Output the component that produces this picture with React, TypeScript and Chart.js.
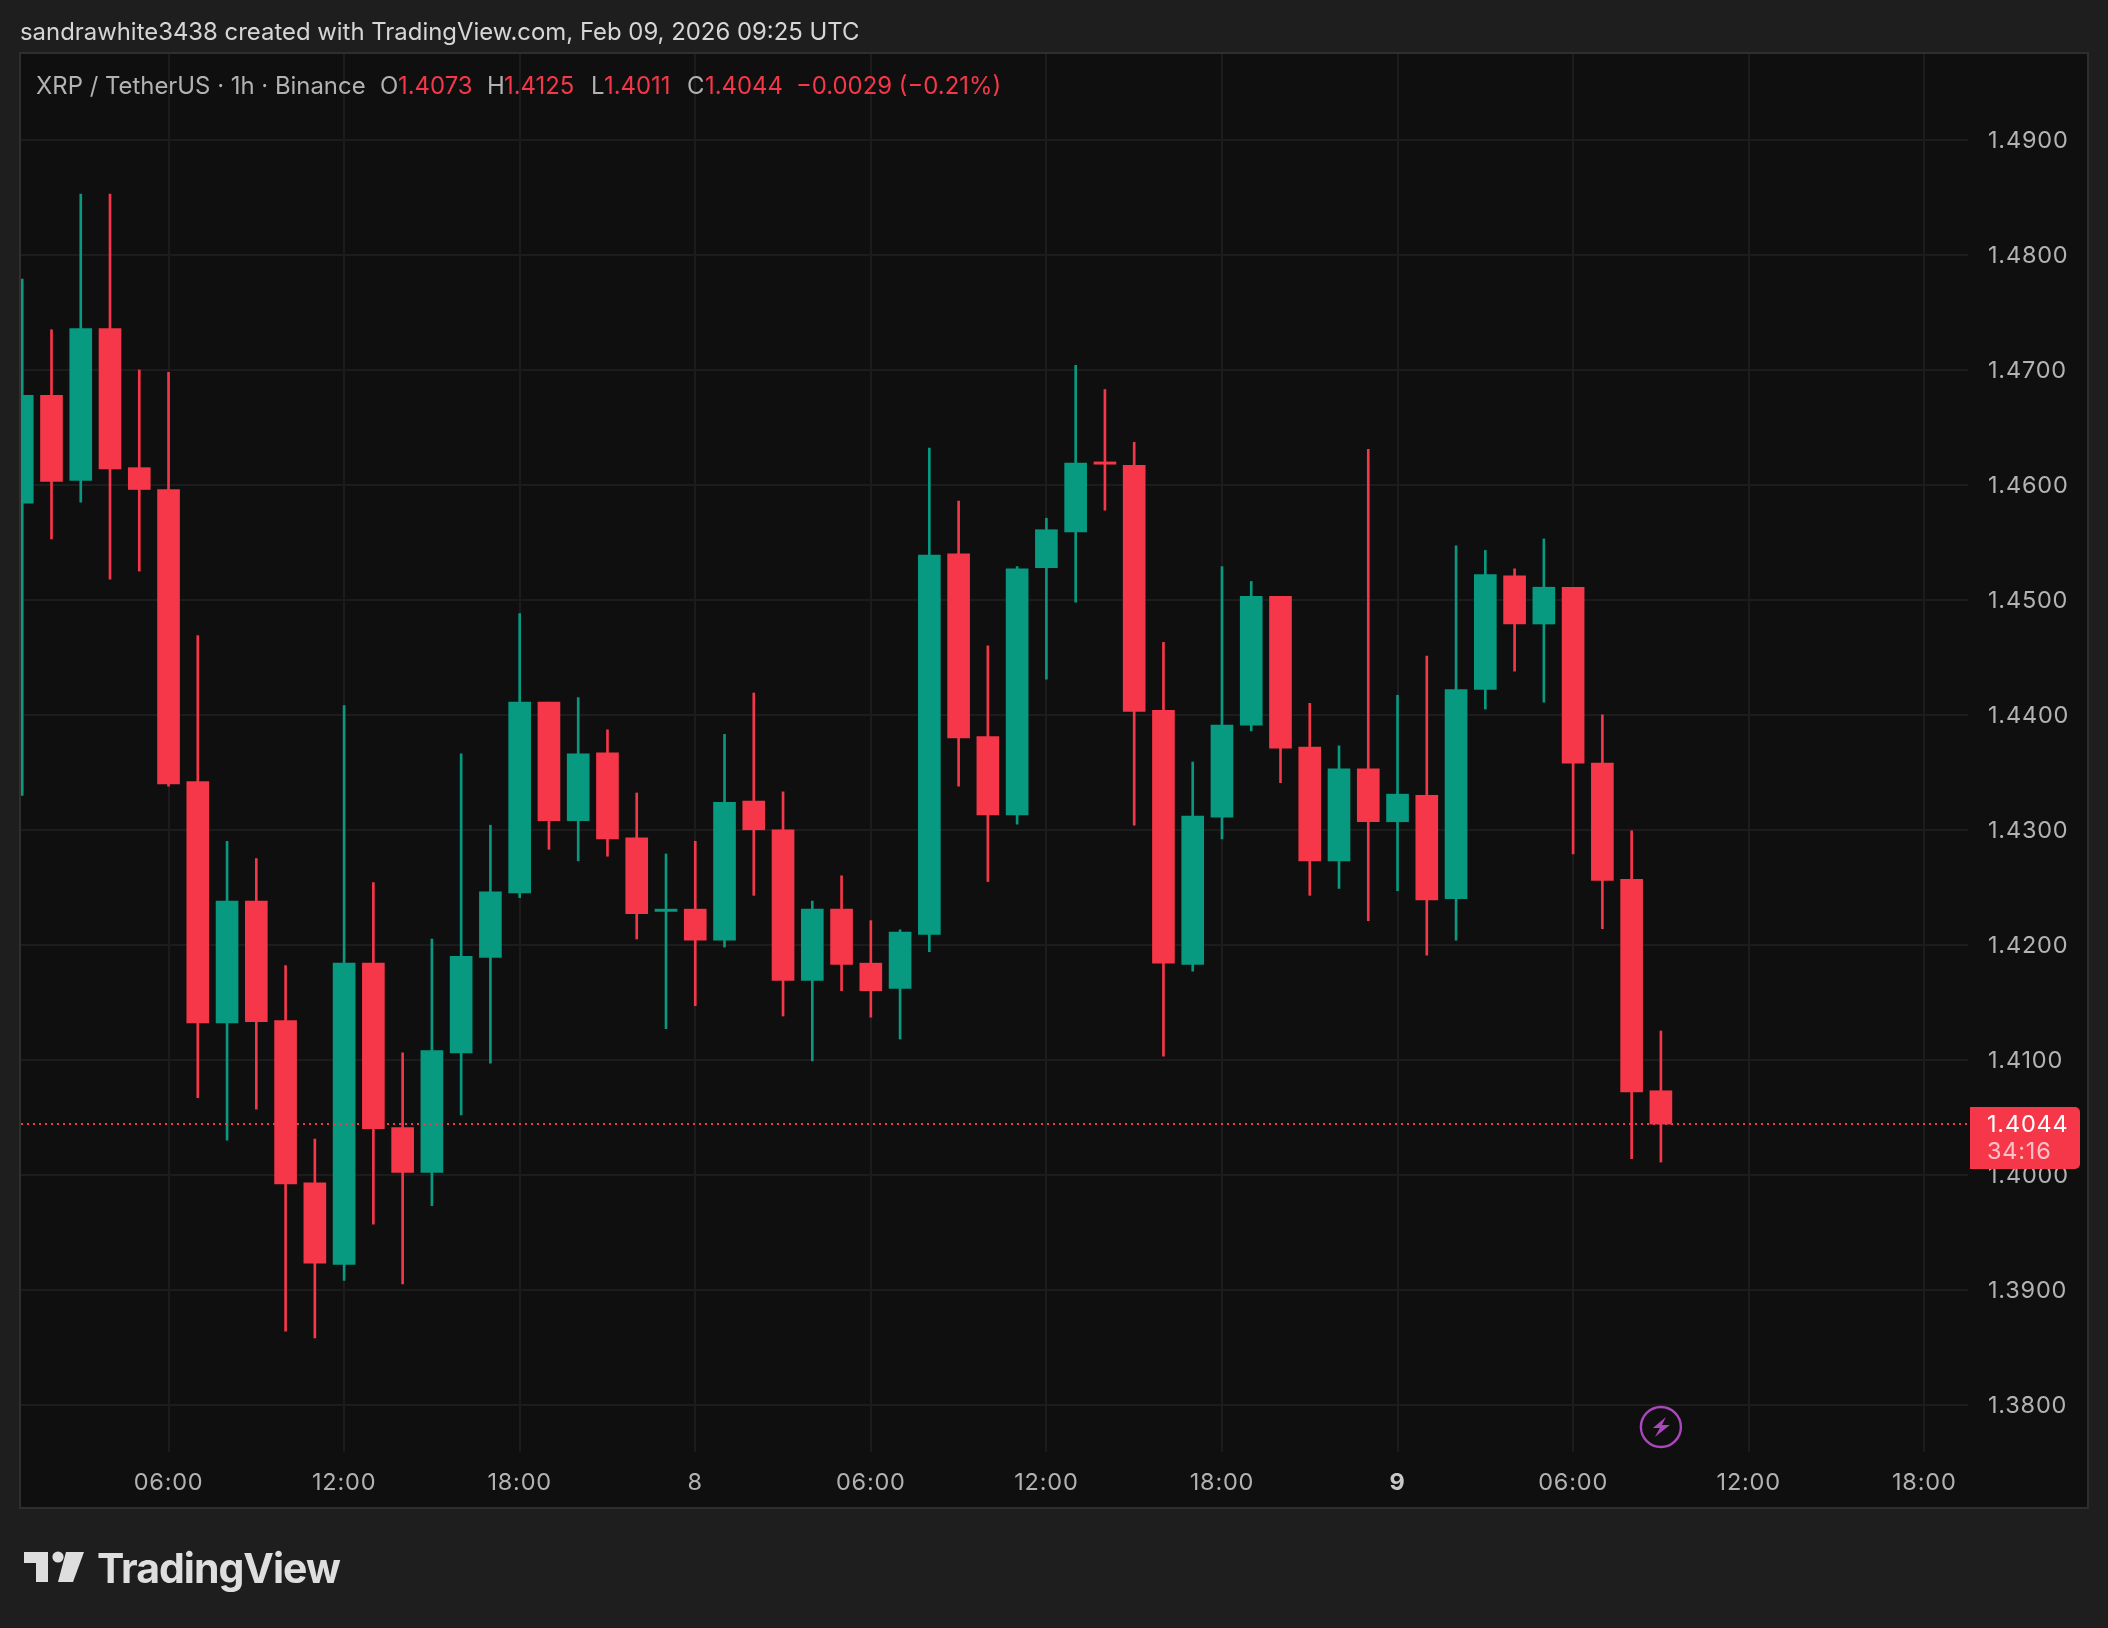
import React, { useEffect, useRef } from "react";
import Chart from "chart.js/auto";

const HOURS_START = 1;
const OPENS = [1.4584,1.4678,1.4604,1.4736,1.4615,1.4596,1.4342,1.4132,1.4238,1.4134,1.3993,1.3922,1.4184,1.4041,1.4002,1.4106,1.4189,1.4245,1.4411,1.4308,1.4367,1.4293,1.4229,1.4231,1.4204,1.4325,1.43,1.4169,1.4231,1.4184,1.4162,1.4209,1.454,1.4381,1.4313,1.4528,1.4559,1.462,1.4617,1.4404,1.4183,1.4311,1.4391,1.4503,1.4372,1.4273,1.4353,1.4307,1.433,1.424,1.4422,1.4521,1.4479,1.4511,1.4358,1.4257,1.4073];
const HIGHS = [1.4779,1.4735,1.4853,1.4853,1.47,1.4698,1.4469,1.429,1.4275,1.4182,1.4031,1.4408,1.4254,1.4106,1.4205,1.4366,1.4304,1.4488,1.4411,1.4415,1.4387,1.4332,1.4279,1.429,1.4383,1.4419,1.4333,1.4238,1.426,1.4221,1.4213,1.4632,1.4586,1.446,1.4529,1.4571,1.4704,1.4683,1.4637,1.4463,1.4359,1.4529,1.4516,1.4503,1.441,1.4373,1.4631,1.4417,1.4451,1.4547,1.4543,1.4527,1.4553,1.4511,1.44,1.4299,1.4125];
const LOWS = [1.433,1.4553,1.4585,1.4518,1.4525,1.4338,1.4067,1.403,1.4057,1.3864,1.3858,1.3908,1.3957,1.3905,1.3973,1.4052,1.4097,1.4241,1.4283,1.4273,1.4277,1.4205,1.4127,1.4147,1.4198,1.4243,1.4138,1.4099,1.416,1.4137,1.4118,1.4194,1.4338,1.4255,1.4305,1.4431,1.4498,1.4578,1.4304,1.4103,1.4177,1.4292,1.4386,1.4341,1.4243,1.4249,1.4221,1.4247,1.4191,1.4204,1.4405,1.4438,1.4411,1.4279,1.4214,1.4014,1.4011];
const CLOSES = [1.4678,1.4603,1.4736,1.4614,1.4596,1.434,1.4132,1.4238,1.4133,1.3992,1.3923,1.4184,1.404,1.4002,1.4108,1.419,1.4246,1.4411,1.4308,1.4366,1.4292,1.4227,1.4231,1.4204,1.4324,1.43,1.4169,1.4231,1.4183,1.416,1.4211,1.4539,1.438,1.4313,1.4527,1.4561,1.4619,1.4618,1.4403,1.4184,1.4312,1.4391,1.4503,1.4371,1.4273,1.4353,1.4307,1.4331,1.4239,1.4422,1.4522,1.4479,1.4511,1.4358,1.4256,1.4072,1.4044];

const PRICE_TICKS = [1.38,1.39,1.4,1.41,1.42,1.43,1.44,1.45,1.46,1.47,1.48,1.49];
const TIME_TICK_HOURS = [6,12,18,24,30,36,42,48,54,60,66];
const TIME_TICK_LABELS = ["06:00","12:00","18:00","8","06:00","12:00","18:00","9","06:00","12:00","18:00"];
const BOLD_TIME_LABEL = "9";
const LAST_PRICE = 1.4044;
const LAST_PRICE_LABEL = "1.4044";
const COUNTDOWN_LABEL = "34:16";
const HEADER = "sandrawhite3438 created with TradingView.com, Feb 09, 2026 09:25 UTC";
const SYMBOL = "XRP / TetherUS · 1h · Binance";

const RED = "#F53749";
const GREEN = "#089981";
const PAGE = "#1E1E1E";
const PANEL = "#0F0F0F";
const BORDER = "#2E2E2E";
const GRID = "#1C1C1C";
const AXIS_TEXT = "#B2B2B2";
const FONT = "Inter";
const AXIS_SPACING = "0.8px";

const hourOf = (i: number) => HOURS_START + i;
const colors = OPENS.map((o, i) => (CLOSES[i] >= o ? GREEN : RED));

const framePlugin = {
  id: "frame",
  beforeDraw(chart: any) {
    const { ctx } = chart;
    ctx.save();
    ctx.fillStyle = PANEL;
    ctx.fillRect(20, 53, 2068, 1455);
    ctx.strokeStyle = BORDER;
    ctx.lineWidth = 2;
    ctx.strokeRect(20, 53, 2068, 1455);
    ctx.restore();
    ctx.letterSpacing = AXIS_SPACING;
  },
  afterDraw(chart: any) {
    const { ctx, scales, chartArea } = chart;
    const y = Math.round(scales.y.getPixelForValue(LAST_PRICE));
    ctx.save();
    ctx.strokeStyle = RED;
    ctx.lineWidth = 2;
    ctx.setLineDash([2, 4]);
    ctx.beginPath();
    ctx.moveTo(chartArea.left, y);
    ctx.lineTo(chartArea.right, y);
    ctx.stroke();
    ctx.setLineDash([]);
    ctx.fillStyle = RED;
    ctx.beginPath();
    ctx.roundRect(1970, y - 17, 110, 62, [0, 5, 5, 0]);
    ctx.fill();
    ctx.font = `23.5px ${FONT}`;
    ctx.textBaseline = "middle";
    ctx.textAlign = "left";
    ctx.fillStyle = "#FFFFFF";
    ctx.fillText(LAST_PRICE_LABEL, 1987, y + 0.5);
    ctx.fillStyle = "#FBC3C8";
    ctx.fillText(COUNTDOWN_LABEL, 1987, y + 28);
    const cx = scales.x.getPixelForValue(hourOf(OPENS.length - 1));
    const cy = chartArea.bottom - 25;
    ctx.strokeStyle = "#AB47BC";
    ctx.lineWidth = 2.4;
    ctx.beginPath();
    ctx.arc(cx, cy, 20, 0, Math.PI * 2);
    ctx.stroke();
    ctx.fillStyle = "#AB47BC";
    ctx.beginPath();
    ctx.moveTo(cx + 5, cy - 10);
    ctx.lineTo(cx - 8, cy + 1);
    ctx.lineTo(cx - 1, cy + 1);
    ctx.lineTo(cx - 6, cy + 10);
    ctx.lineTo(cx + 9, cy - 2);
    ctx.lineTo(cx + 1, cy - 2);
    ctx.closePath();
    ctx.fill();
    ctx.restore();
  },
};

const ohlc: [string, number, string][] = [
  ["O", 380, AXIS_TEXT], ["1.4073", 398, RED],
  ["H", 487, AXIS_TEXT], ["1.4125", 504, RED],
  ["L", 591, AXIS_TEXT], ["1.4011", 604, RED],
  ["C", 687, AXIS_TEXT], ["1.4044", 705, RED],
  ["−0.0029 (−0.21%)", 796, RED],
];

const abs = (x: number, y: number, size: number, color: string): React.CSSProperties => ({
  position: "absolute", left: x, top: y, fontSize: size, color, fontFamily: FONT,
  whiteSpace: "nowrap", lineHeight: "30px",
});

export default function App() {
  const ref = useRef<HTMLCanvasElement>(null);
  useEffect(() => {
    const chart = new Chart(ref.current!, {
      type: "bar",
      data: {
        datasets: [
          {
            label: "wick",
            data: OPENS.map((_, i) => ({ x: hourOf(i), y: [LOWS[i], HIGHS[i]] })),
            backgroundColor: colors,
            barThickness: 2,
            grouped: false,
            order: 2,
          },
          {
            label: "body",
            data: OPENS.map((o, i) => ({ x: hourOf(i), y: [o, CLOSES[i]] })),
            backgroundColor: colors,
            barThickness: 22,
            grouped: false,
            order: 1,
          },
        ] as any,
      },
      options: {
        animation: false,
        responsive: false,
        devicePixelRatio: 1,
        layout: { padding: { left: 21, top: 54, right: 0, bottom: 0 } },
        plugins: { legend: { display: false }, tooltip: { enabled: false }, title: { display: false } },
        scales: {
          x: {
            type: "linear",
            offset: false,
            min: 0.958,
            max: 67.495,
            afterFit(s: any) { s.height = 176; },
            afterBuildTicks(s: any) { s.ticks = TIME_TICK_HOURS.map((value) => ({ value })); },
            grid: { color: GRID, lineWidth: 2, drawTicks: false, offset: false },
            border: { display: false },
            ticks: {
              autoSkip: false,
              maxRotation: 0,
              padding: 17,
              color: (c: any) => (TIME_TICK_LABELS[c.index] === BOLD_TIME_LABEL ? "#C8C8C8" : AXIS_TEXT),
              font: (c: any) => ({ family: FONT, size: 23.5, weight: TIME_TICK_LABELS[c.index] === BOLD_TIME_LABEL ? "bold" : "normal" }),
              callback: (_v: any, i: number) => TIME_TICK_LABELS[i],
            },
          },
          y: {
            type: "linear",
            position: "right",
            min: 1.37588,
            max: 1.49748,
            afterFit(s: any) { s.width = 140; },
            afterBuildTicks(s: any) { s.ticks = PRICE_TICKS.map((value) => ({ value })); },
            grid: { color: GRID, lineWidth: 2, drawTicks: false },
            border: { display: false },
            ticks: {
              autoSkip: false,
              padding: 20,
              labelOffset: 1,
              color: AXIS_TEXT,
              font: { family: FONT, size: 23.5 },
              callback: (v: any) => Number(v).toFixed(4),
            },
          },
        },
      } as any,
      plugins: [framePlugin],
    });
    return () => chart.destroy();
  }, []);

  return (
    <div style={{ position: "fixed", left: 0, top: 0, width: 2108, height: 1628, background: PAGE, overflow: "hidden" }}>
      <canvas ref={ref} width={2108} height={1628} style={{ position: "absolute", left: 0, top: 0, width: 2108, height: 1628 }} />
      <span style={abs(20, 17, 23.9, "#D6D6D6")}>{HEADER}</span>
      <span style={abs(36, 71, 23.9, AXIS_TEXT)}>{SYMBOL}</span>
      {ohlc.map(([t, x, c], i) => (
        <span key={i} style={abs(x, 71, 23.9, c)}>{t}</span>
      ))}
      <svg style={{ position: "absolute", left: 0, top: 0 }} width={100} height={1628}>
        <path d="M24 1552H48V1582H36V1563H24Z" fill="#DEDEDE" />
        <circle cx={58} cy={1557} r={5.6} fill="#DEDEDE" />
        <path d="M66 1552H84L73 1582H58Z" fill="#DEDEDE" />
      </svg>
      <span style={{ ...abs(97, 1548, 41, "#DEDEDE"), fontWeight: 700, lineHeight: "40px", letterSpacing: -1 }}>TradingView</span>
    </div>
  );
}
